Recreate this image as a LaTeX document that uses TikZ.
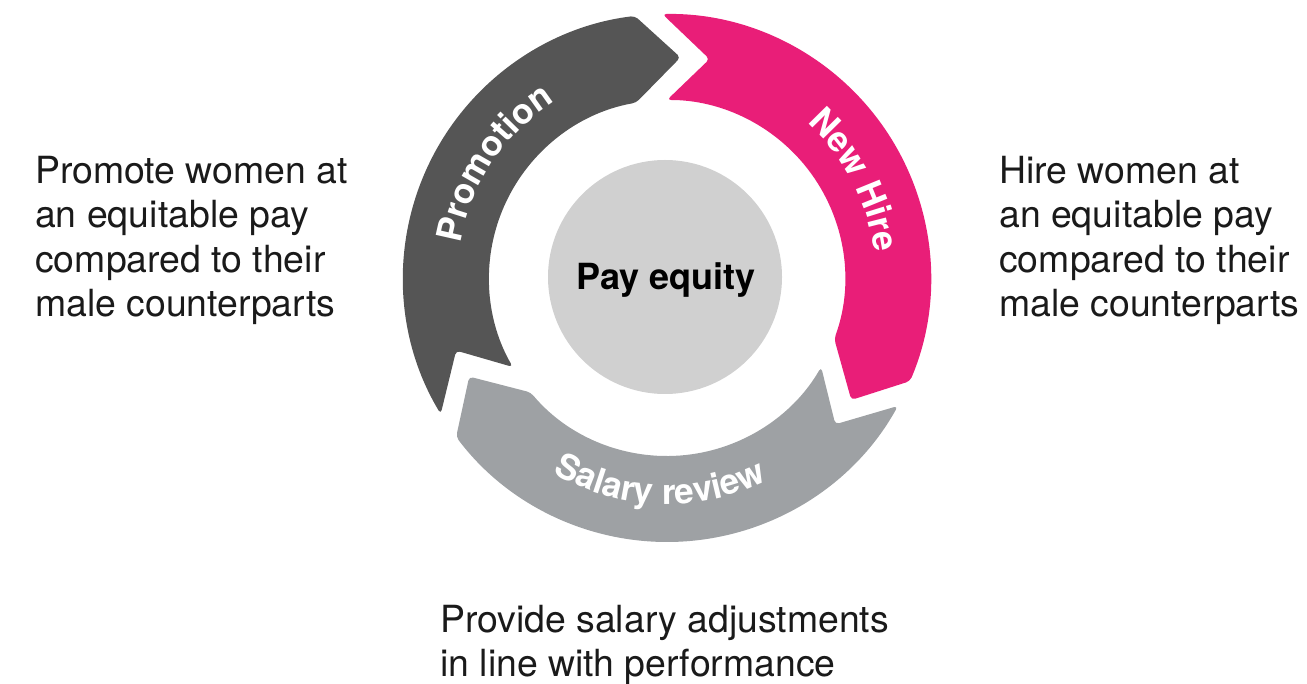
\documentclass[tikz,border=0pt]{standalone}
\usepackage{fontspec}
\setmainfont{TeX Gyre Heros}
\usetikzlibrary{decorations.text}
\definecolor{darkarrow}{RGB}{85,85,85}
\definecolor{pinkarrow}{RGB}{233,30,120}
\definecolor{grayarrow}{RGB}{158,161,164}
\definecolor{hubgray}{RGB}{208,208,208}
\definecolor{bodytext}{RGB}{26,26,26}
\newcommand\lblfnt{\fontsize{35}{35}\selectfont\bfseries}
% #1 colour, #2 notch angle of the tail, #3 angle of the tip
\newcommand\cyclearrow[3]{%
  \fill[#1, arrowband] (#2+12:264pt)
    arc[start angle=#2+12, end angle=#3+10.5, radius=264pt]
    -- (#3:221pt) -- (#3+13.5:178pt)
    arc[start angle=#3+13.5, end angle=#2+11, radius=178pt]
    -- (#2:223pt) -- cycle;}
\begin{document}
\begin{tikzpicture}[x=1pt,y=1pt,
  arrowband/.style={rounded corners=4pt},
  bodytxt/.style={anchor=north west, align=left, inner sep=0pt,
    font=\fontsize{37.4}{44.5}\selectfont, text=bodytext},
  bandlabel/.style={decorate, decoration={text along path, text align=center, text color=white}},
]
\useasboundingbox (0,0) rectangle (1307,683);
\begin{scope}[shift={(667,405)}]
  \cyclearrow{darkarrow}{199}{86.5}
  \cyclearrow{pinkarrow}{79}{-33.5}
  \cyclearrow{grayarrow}{-41}{-153.5}
  \path[bandlabel, decoration={text={|\lblfnt|Promotion}}]
    (182:209pt) arc[start angle=182, end angle=111, radius=209pt];
  \path[bandlabel, decoration={text={|\lblfnt|New Hire}}]
    (64:209pt) arc[start angle=64, end angle=-9, radius=209pt];
  \path[bandlabel, decoration={text={|\lblfnt|Salary review}}]
    (-130:226pt) arc[start angle=-130, end angle=-54, radius=226pt];
\end{scope}
\node[circle, fill=hubgray, minimum size=234pt, inner sep=0pt] (hub) at (665,406) {};
\node[font=\fontsize{36}{36}\selectfont\bfseries, text=black] (hubtext) at (666,403) {Pay equity};
\node[bodytxt] (promtext) at (35,527) {Promote women at\\an equitable pay\\compared to their\\male counterparts};
\node[bodytxt] (hiretext) at (999,527) {Hire women at\\an equitable pay\\compared to their\\male counterparts};
\node[bodytxt] (salarytext) at (440,78) {Provide salary adjustments\\in line with performance};
\end{tikzpicture}
\end{document}
